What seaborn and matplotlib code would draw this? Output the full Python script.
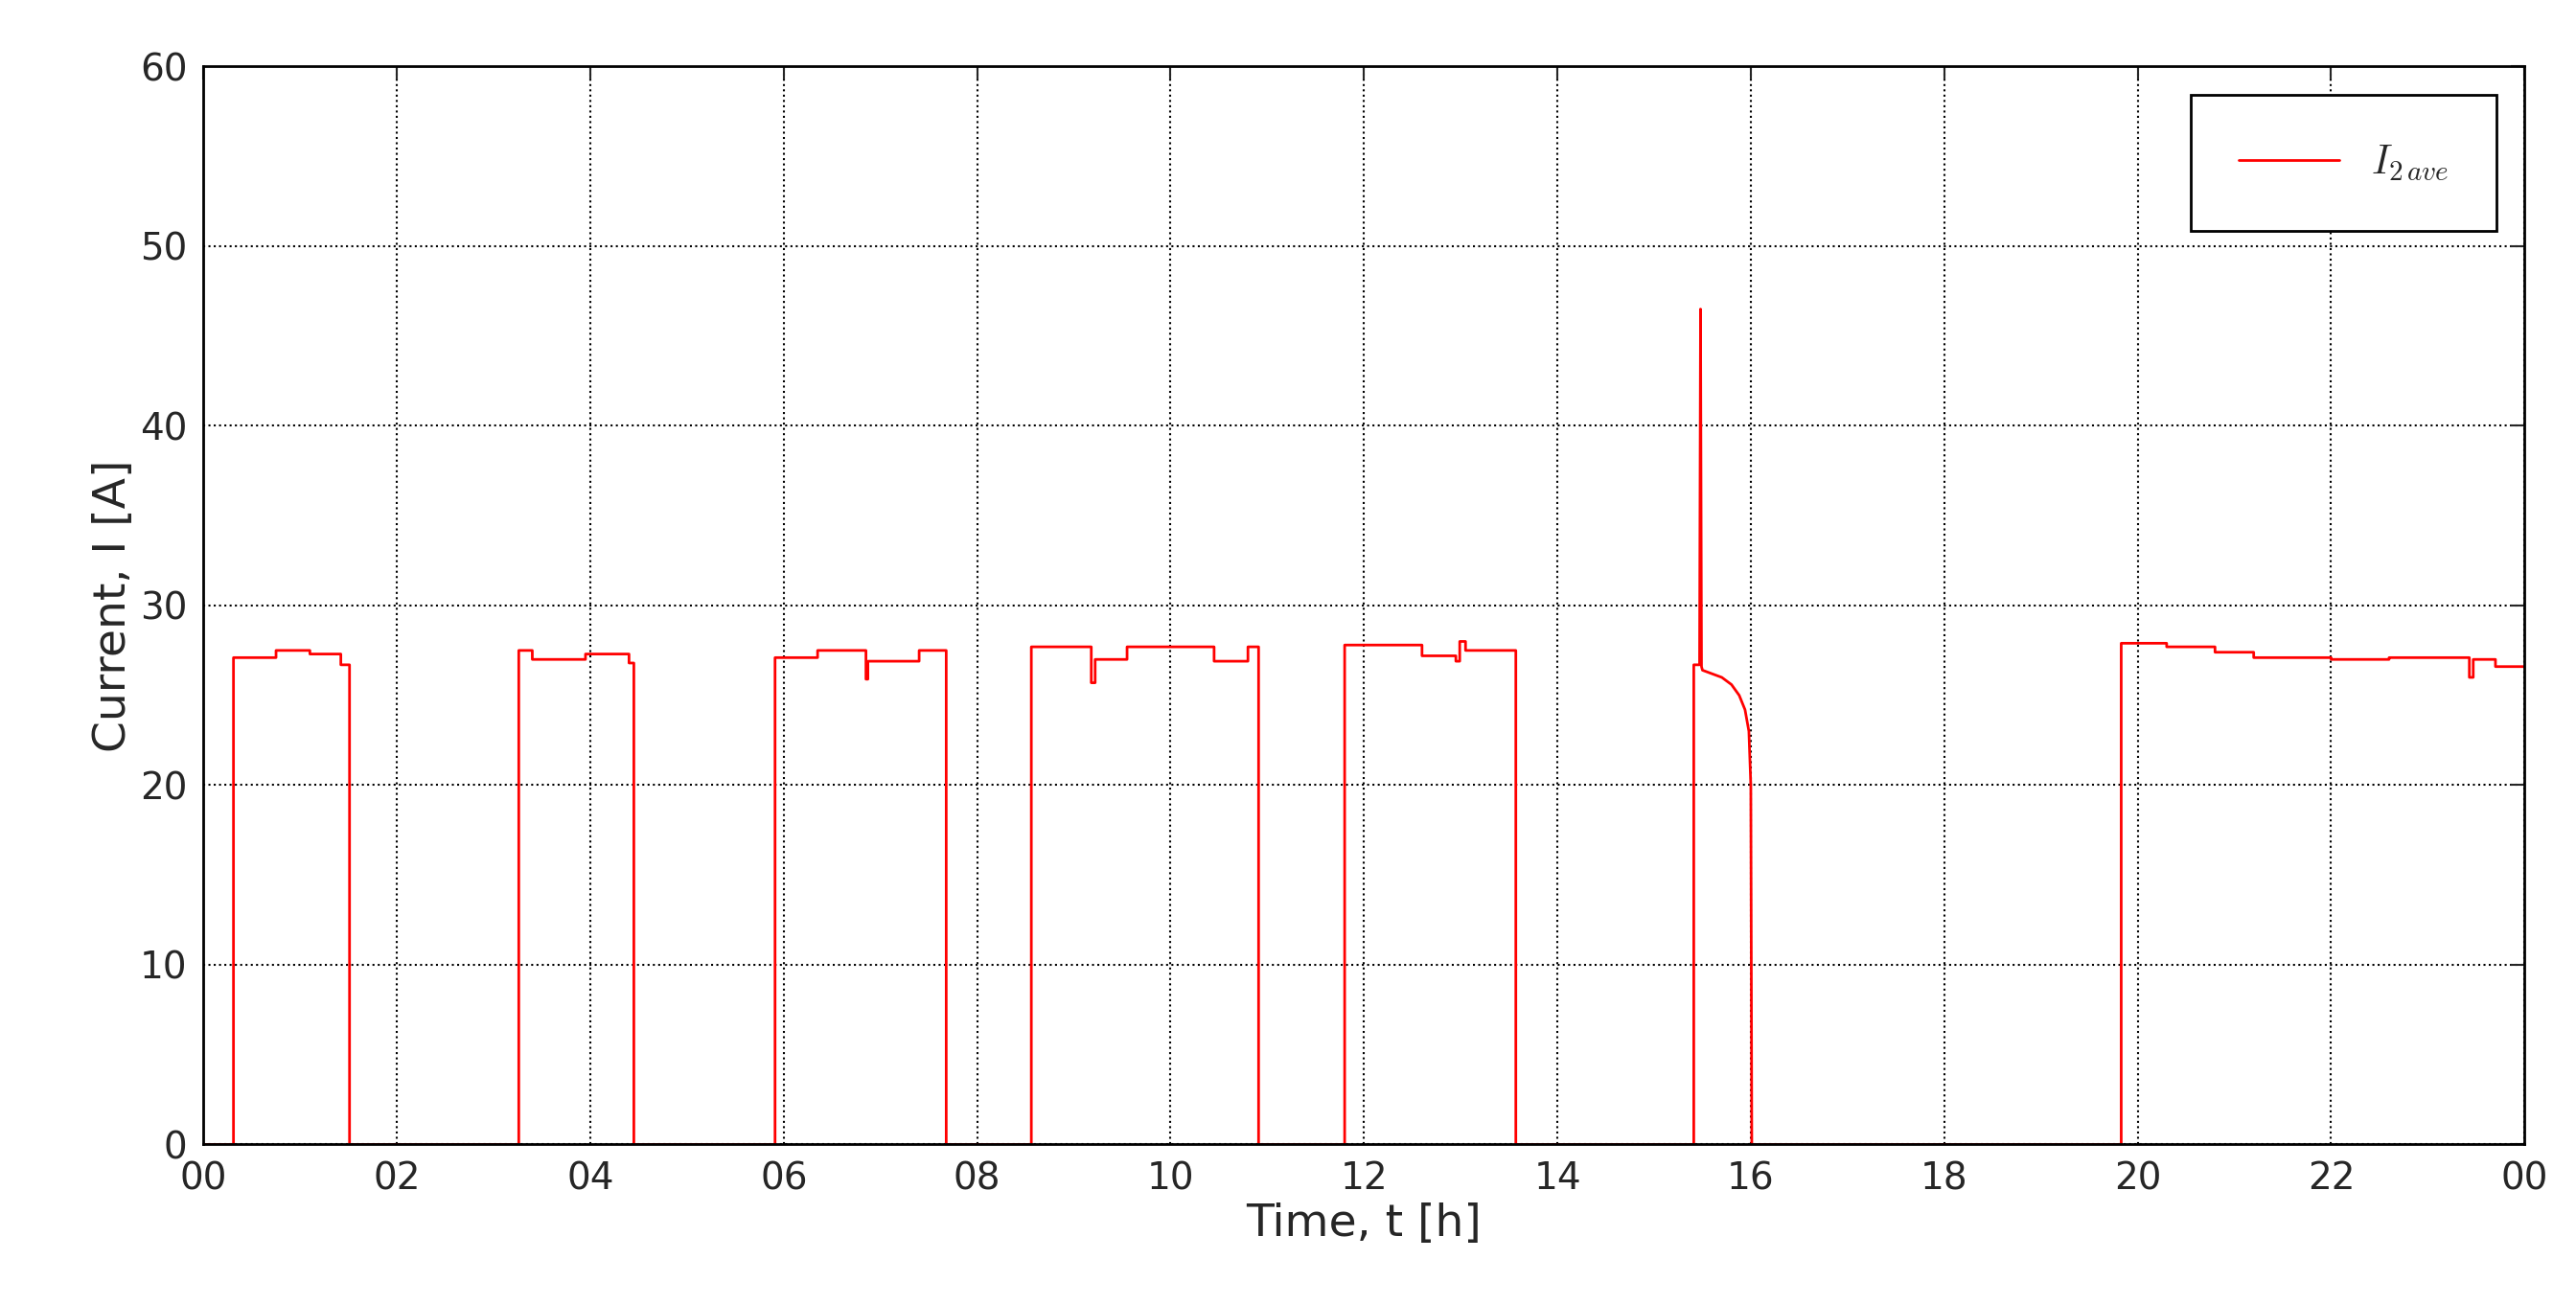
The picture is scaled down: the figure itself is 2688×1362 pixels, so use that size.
import matplotlib
matplotlib.use("Agg")
import matplotlib.pyplot as plt
import seaborn as sns
import numpy as np

# Time (hours) and current (A) readings, step-like profile
time_h = [0.0, 0.31, 0.31, 0.75, 0.75, 1.10, 1.10, 1.42, 1.42, 1.51, 1.51,
          3.26, 3.26, 3.40, 3.40, 3.95, 3.95, 4.40, 4.40, 4.45, 4.45,
          5.91, 5.91, 6.35, 6.35, 6.85, 6.85, 6.87, 6.87, 7.40, 7.40, 7.68, 7.68,
          8.56, 8.56, 9.18, 9.18, 9.22, 9.22, 9.55, 9.55, 10.45, 10.45, 10.80, 10.80, 10.91, 10.91,
          11.80, 11.80, 12.60, 12.60, 12.95, 12.95, 12.99, 12.99, 13.05, 13.05, 13.57, 13.57,
          15.41, 15.41, 15.47, 15.48, 15.49, 15.50, 15.60, 15.70, 15.80, 15.88, 15.94, 15.98, 16.00, 16.01, 16.01,
          19.83, 19.83, 20.30, 20.30, 20.80, 20.80, 21.20, 21.20, 22.00, 22.00, 22.60, 22.60,
          23.43, 23.43, 23.47, 23.47, 23.70, 23.70, 24.0]
current_A = [0, 0, 27.1, 27.1, 27.5, 27.5, 27.3, 27.3, 26.7, 26.7, 0,
             0, 27.5, 27.5, 27.0, 27.0, 27.3, 27.3, 26.8, 26.8, 0,
             0, 27.1, 27.1, 27.5, 27.5, 25.9, 25.9, 26.9, 26.9, 27.5, 27.5, 0,
             0, 27.7, 27.7, 25.7, 25.7, 27.0, 27.0, 27.7, 27.7, 26.9, 26.9, 27.7, 27.7, 0,
             0, 27.8, 27.8, 27.2, 27.2, 26.9, 26.9, 28.0, 28.0, 27.5, 27.5, 0,
             0, 26.7, 26.7, 46.5, 26.6, 26.4, 26.2, 26.0, 25.6, 25.0, 24.2, 23.0, 20.0, 0, 0,
             0, 27.9, 27.9, 27.7, 27.7, 27.4, 27.4, 27.1, 27.1, 27.0, 27.0, 27.1,
             27.1, 26.0, 26.0, 27.0, 27.0, 26.6, 26.6]

xticks = list(range(0, 25, 2))
xtick_labels = ["00", "02", "04", "06", "08", "10", "12", "14", "16", "18", "20", "22", "00"]

sns.set_style("white")
plt.rcParams["font.family"] = ["DejaVu Sans"]
plt.rcParams["mathtext.fontset"] = "cm"

fig = plt.figure(figsize=(26.88, 13.62), dpi=100)
ax = fig.add_axes([0.079, 0.123, 0.901, 0.826])
sns.lineplot(x=time_h, y=current_A, ax=ax, color="red", linewidth=2,
             estimator=None, sort=False, label=r"$I_{2\,ave}$")
ax.set_xlim(0, 24)
ax.set_ylim(0, 60)
ax.set_xticks(xticks)
ax.set_xticklabels(xtick_labels)
ax.set_yticks(range(0, 61, 10))
ax.tick_params(labelsize=28, direction="in", length=10, width=1.5, top=True, right=True, pad=12)
ax.grid(True, linestyle=":", color="black", linewidth=1.5)
for s in ax.spines.values():
    s.set_color("black"); s.set_linewidth(2)
ax.set_xlabel("Time, t [h]", fontsize=34)
ax.set_ylabel("Current, I [A]", fontsize=34)
leg = ax.legend(loc="upper right", fontsize=30, fancybox=False, framealpha=1,
                borderpad=1.2, handlelength=2.5, borderaxespad=0.7)
leg.get_frame().set_edgecolor("black")
leg.get_frame().set_linewidth(2)
fig.savefig("out.png", dpi=100)
